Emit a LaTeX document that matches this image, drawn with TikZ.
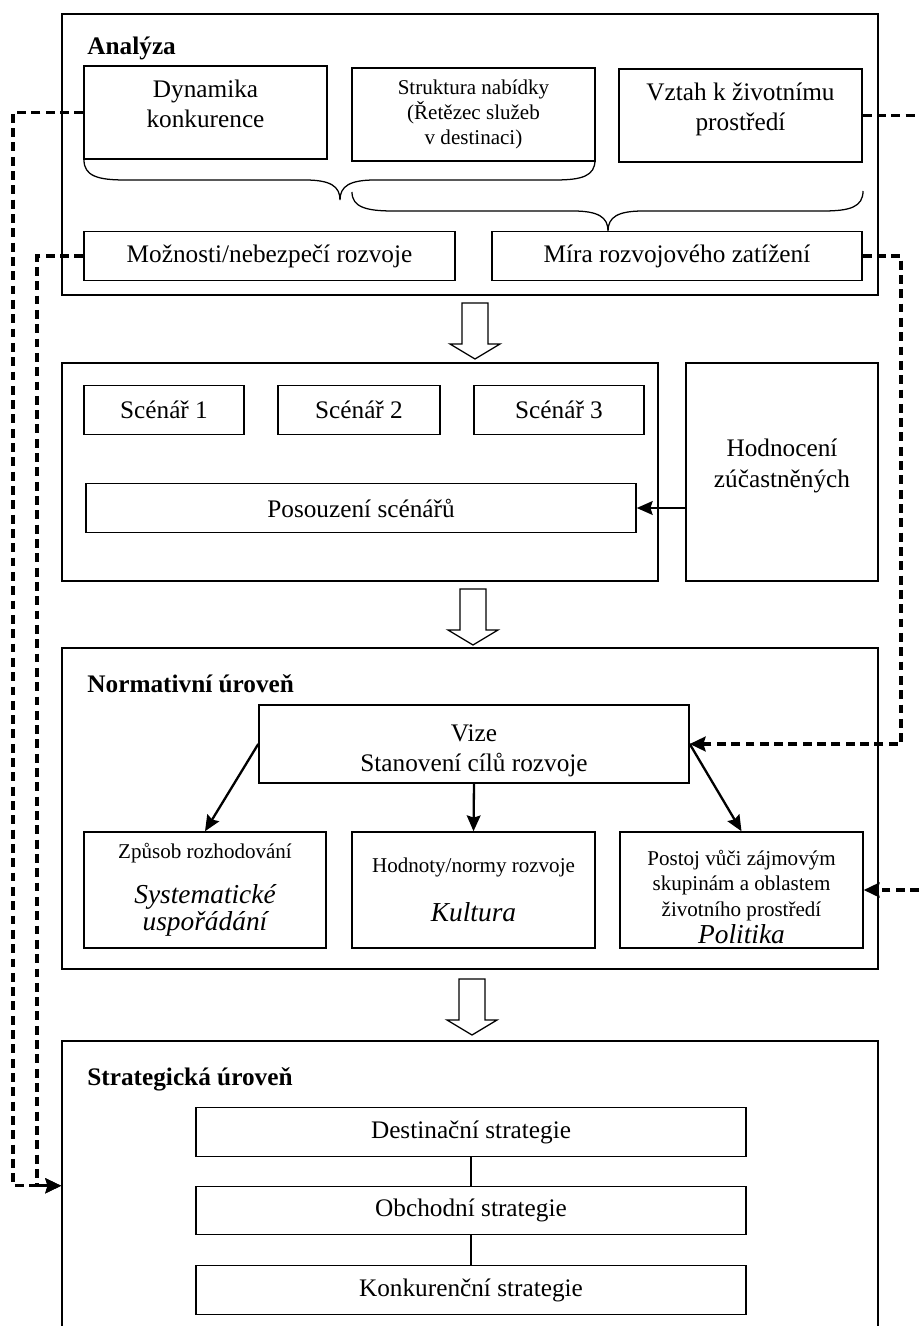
\documentclass[tikz,border=0pt]{standalone}
\usepackage{fontspec}
\setmainfont{Liberation Serif}
\usetikzlibrary{shapes,arrows.meta,positioning,calc}

\newcommand{\jed}{0.0167cm}
\newcommand{\kurziva}[1]{{\fontsize{13}{15.5}\selectfont\itshape #1}}

\begin{document}
\begin{tikzpicture}[
    x=\jed, y=-\jed,
    vel/.style 2 args={minimum width=#1*\jed, minimum height=#2*\jed},
    ramec/.style={rectangle, draw, line width=0.7pt, inner sep=0pt},
    box/.style={rectangle, draw, line width=0.7pt, inner sep=0pt, align=center, font=\fontsize{12}{14.3}\selectfont},
    malybox/.style={box, font=\fontsize{10}{12}\selectfont},
    nadpis/.style={anchor=west, inner sep=0pt, font=\fontsize{12}{14}\selectfont\bfseries},
    arrow/.style={-{Stealth[length=7.5pt, width=6.5pt, inset=1pt]}, line width=1.1pt},
    carka/.style={dash pattern=on 4.2pt off 2.6pt, line width=1.5pt},
    carkasipka/.style={carka, -{Stealth[length=7.5pt, width=7pt, inset=1pt]}},
    spoj/.style={line width=0.6pt},
    zavorka/.style={line width=0.6pt},
    sipka/.pic={\draw[line width=0.6pt, fill=white] (-13,0) -- (-13,41) -- (-25,41) -- (0,56) -- (25,41) -- (13,41) -- (13,0) -- cycle;}
]
    \useasboundingbox (0,0) rectangle (919,1326);
    \clip (0,0) rectangle (919,1326);

    % Analyza
    \node[ramec, vel={816}{281}] (analyza) at (470,154.5) {};
    \node[nadpis] (lanal) at (87,48) {Analýza};
    \node[box, vel={243}{93}] (dyn) at (205.5,112.5) {Dynamika\\konkurence\\[-6pt]};
    \node[malybox, vel={243}{93}] (strukt) at (473.5,114.5) {Struktura nabídky\\(Řetězec služeb\\v destinaci)};
    \node[box, vel={243}{93}] (vztah) at (740.5,115.5) {Vztah k životnímu\\prostředí\\[-6pt]};
    \node[box, vel={371}{49}] (moz) at (269.5,256) {Možnosti/nebezpečí rozvoje};
    \node[box, vel={370}{49}] (mira) at (677,256) {Míra rozvojového zatížení};

    % Zavorky
    \draw[zavorka] (84,160) .. controls (84,176) and (98,180) .. (125,180) -- (305,180)
        .. controls (330,180) and (340,186) .. (340,200) .. controls (340,186) and (350,180) .. (375,180)
        -- (555,180) .. controls (582,180) and (595,176) .. (595,160);
    \draw[zavorka] (352,192) .. controls (352,207) and (366,211) .. (393,211) -- (573,211)
        .. controls (598,211) and (608,217) .. (608,231) .. controls (608,217) and (618,211) .. (643,211)
        -- (823,211) .. controls (850,211) and (863,207) .. (863,191);

    % Scenare
    \node[ramec, vel={596}{218}] (scen) at (360,472) {};
    \node[box, vel={160}{49}] (sc1) at (164,410) {Scénář 1};
    \node[box, vel={162}{49}] (sc2) at (359,410) {Scénář 2};
    \node[box, vel={170}{49}] (sc3) at (559,410) {Scénář 3};
    \node[box, vel={550}{49}] (pos) at (361,508) {Posouzení scénářů};
    \node[box, vel={192}{218}] (hod) at (782,472) {Hodnocení\\zúčastněných\\[-6pt]};

    % Normativni uroven
    \node[ramec, vel={816}{321}] (norm) at (470,808.5) {};
    \node[nadpis] (lnorm) at (87,684) {Normativní úroveň};
    \node[box, vel={430}{78}] (vize) at (474,744) {\rule{0pt}{14pt}Vize\\Stanovení cílů rozvoje};
    \node[malybox, vel={242}{116}] (zpus) at (205,890) {Způsob rozhodování\\[9pt]\kurziva{Systematické}\\[1pt]\kurziva{uspořádání}};
    \node[malybox, vel={243}{116}] (hodn) at (473.5,890) {Hodnoty/normy rozvoje\\[11.5pt]\kurziva{Kultura}};
    \node[malybox, vel={243}{116}] (postoj) at (741.5,890) {\rule{0pt}{14pt}Postoj vůči zájmovým\\skupinám a oblastem\\životního prostředí\\[1pt]\kurziva{Politika}};

    % Strategicka uroven
    \node[ramec, vel={816}{304}] (strat) at (470,1193) {};
    \node[nadpis] (lstrat) at (87,1079) {Strategická úroveň};
    \node[box, vel={550}{49}] (dest) at (471,1132) {Destinační strategie};
    \node[box, vel={550}{48}] (obch) at (471,1210.5) {Obchodní strategie};
    \node[box, vel={550}{49}] (konk) at (471,1290) {Konkurenční strategie};

    % Sipky mezi urovnemi
    \pic at (475,303) {sipka};
    \pic at (473,589) {sipka};
    \pic at (472,979) {sipka};

    % Plne sipky
    \draw[arrow] (hod.west |- pos.east) -- (pos.east);
    \draw[arrow] (vize.west) -- (zpus.north);
    \draw[arrow] (vize.south) -- (hodn.north);
    \draw[arrow] (vize.east) -- (postoj.north);
    \draw[spoj] (dest) -- (obch);
    \draw[spoj] (obch) -- (konk);

    % Carkovane vazby
    \coordinate (levy1) at (13,0);
    \coordinate (levy2) at (37,0);
    \coordinate (pravy) at (901,0);
    \coordinate (okraj) at (919,0);
    \draw[carkasipka] (dyn.west) -- (dyn.west -| levy1) -- (levy1 |- obch.north) -- (strat.west |- obch.north);
    \draw[carkasipka] (moz.west) -- (moz.west -| levy2) -- (levy2 |- obch.north) -- (strat.west |- obch.north);
    \draw[carka] (vztah.east) -- (vztah.east -| okraj);
    \draw[carkasipka] (mira.east) -- (mira.east -| pravy) -- (pravy |- vize.east) -- (vize.east);
    \draw[carkasipka] (postoj.east -| okraj) -- (postoj.east);
\end{tikzpicture}
\end{document}
